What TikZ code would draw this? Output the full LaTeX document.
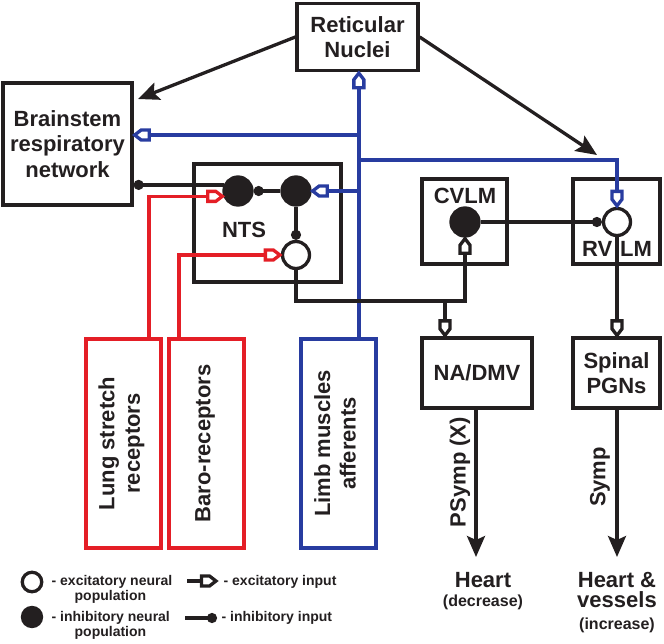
\documentclass[tikz,border=0pt]{standalone}
\usepackage{fontspec}
\setmainfont{Liberation Sans}
\usetikzlibrary{arrows.meta,calc}
\definecolor{ink}{RGB}{35,31,32}
\definecolor{rd}{RGB}{228,30,38}
\definecolor{bl}{RGB}{40,60,160}
\newcommand\lblfont{\bfseries\fontsize{22}{25.5}\selectfont}
\newcommand\parfont{\bfseries\fontsize{16}{18}\selectfont}
\newcommand\legfont{\bfseries\fontsize{14}{16}\selectfont}
\pgfdeclarearrow{
  name = House,
  setup code = {
    \pgfarrowssettipend{0pt}
    \pgfarrowssetbackend{-16pt}
    \pgfarrowssetlineend{-15pt}
    \pgfarrowssetvisualbackend{-16pt}
    \pgfarrowsupperhullpoint{0pt}{0pt}
    \pgfarrowsupperhullpoint{-7pt}{5.5pt}
    \pgfarrowsupperhullpoint{-16pt}{5.5pt}
  },
  drawing code = {
    \pgfsetmiterjoin
    \pgfpathmoveto{\pgfpoint{-1pt}{0pt}}
    \pgfpathlineto{\pgfpoint{-7.5pt}{5pt}}
    \pgfpathlineto{\pgfpoint{-15.5pt}{5pt}}
    \pgfpathlineto{\pgfpoint{-15.5pt}{-5pt}}
    \pgfpathlineto{\pgfpoint{-7.5pt}{-5pt}}
    \pgfpathclose
    \pgfsetfillcolor{white}
    \pgfusepathqfillstroke
  },
}
\begin{document}
\begin{tikzpicture}[x=1pt,y=-1pt, color=ink,
  every path/.style={line width=3.3pt},
  box/.style={draw=ink, rectangle, inner sep=0pt, line width=3.3pt, text=ink, font=\lblfont, align=center},
  txt/.style={text=ink, font=\lblfont, align=center, inner sep=0pt},
  ptxt/.style={text=ink, font=\parfont, inner sep=0pt, anchor=base},
  leg/.style={text=ink, font=\legfont, anchor=base west, inner sep=0pt},
  exc/.style={-House},
  inh/.style={-{Circle[length=10pt,width=10pt]}},
  big/.style={-{Stealth[length=21pt,width=18pt,inset=4pt]}},
  ecell/.style={circle, draw=ink, fill=white, line width=3.3pt, inner sep=0pt, minimum size=#1},
  icell/.style={circle, draw=ink, fill=ink, line width=3.3pt, inner sep=0pt, minimum size=#1},
]
\useasboundingbox (0,0) rectangle (664,643);

% boxes
\node[box, minimum width=121pt, minimum height=67pt] (ret) at (357.5,37) {Reticular\\Nuclei};
\node[box, minimum width=129pt, minimum height=122pt] (brain) at (67.5,144) {Brainstem\\respiratory\\network};
\node[box, minimum width=147pt, minimum height=118pt] (nts) at (267.5,223) {};
\node[box, minimum width=85pt, minimum height=85pt] (cvlm) at (464.5,221.5) {};
\node[box, minimum width=87pt, minimum height=85pt] (rvlm) at (616.5,221.5) {};
\node[box, minimum width=110pt, minimum height=70pt] (nadmv) at (477,373) {NA/DMV};
\node[box, minimum width=87pt, minimum height=70pt] (spinal) at (616.5,373) {Spinal\\PGNs};
\node[box, draw=rd, minimum width=75pt, minimum height=209pt] (lung) at (123.5,443.5) {};
\node[box, draw=rd, minimum width=75pt, minimum height=209pt] (baro) at (206.5,443.5) {};
\node[box, draw=bl, minimum width=75pt, minimum height=209pt] (limb) at (338.5,443.5) {};

\node[txt, rotate=90] at (121.5,443.5) {Lung stretch\\receptors};
\node[txt, rotate=90] at (205,443.5) {Baro-receptors};
\node[txt, rotate=90] at (335,443.5) {Limb muscles\\afferents};

% labels in small boxes
\node[txt] (ntslbl) at (244,230) {NTS};
\node[txt] (cvlmlbl) at (465,195.5) {CVLM};
\node[txt] (rvlmlbl) at (617,249) {RV\hspace{8pt}LM};

% neural populations
\node[icell=28pt] (n1) at (238,191) {};
\node[icell=28pt] (n2) at (296,191) {};
\node[ecell=27pt] (n3) at (296,255) {};
\node[icell=28pt] (cv) at (465,222) {};
\node[ecell=27pt] (rv) at (617,222) {};

% coordinates
\coordinate (limbout) at ($(limb.north west)!0.76!(limb.north east)$);
\coordinate (lungout) at ($(lung.north west)!0.827!(lung.north east)$);
\coordinate (baroout) at ($(baro.north west)!0.147!(baro.north east)$);
\coordinate (b1) at (358,135);
\coordinate (b2) at (358,160);
\coordinate (j) at (445,301);
\coordinate (bt) at (138,99);
\coordinate (rt) at (597,155);
\coordinate (h1) at (476,557);
\coordinate (h2) at (617,557);

% reticular outputs
\draw[big] (ret.west) -- (bt);
\draw[big] (ret.east) -- (rt);

% blue limb afferents
\draw[bl, exc] (limbout) -- (limbout |- ret.south);
\draw[bl, exc] (b1) -- (b1 -| brain.east);
\draw[bl, exc] (b2) -| (rv.north);
\draw[bl, exc] (n2.east -| b1) -- (n2.east);

% red receptor afferents
\draw[rd, exc] (lungout) |- (n1.200);
\draw[rd, exc] (baroout) |- (n3.west);

% NTS internal
\draw[inh] (n2.west) -- (n1.east);
\draw[inh] (n2.south) -- (n3.north);
\draw[inh] (n1.157) -- (n1.157 -| brain.east);

% NTS outputs
\draw (n3.south) |- (j);
\draw[exc] (j) -| (cv.south);
\draw[exc] (j) -- (j |- nadmv.north);
\draw[inh] (cv.east) -- (rv.west);
\draw[exc] (rv.south) -- (rv.south |- spinal.north);

% efferents
\draw[big] (nadmv.south -| h1) -- (h1);
\draw[big] (spinal.south -| h2) -- (h2);
\node[txt, rotate=90] (psymp) at (460,472) {PSymp (X)};
\node[txt, rotate=90] (symp) at (600,477) {Symp};

\node[txt, anchor=base] (heartL) at (483,587) {Heart};
\node[ptxt] (dec) at (483,606) {(decrease)};
\node[txt, anchor=base] (heartR) at (617,587) {Heart \&};
\node[txt, anchor=base] (vess) at (617,607) {vessels};
\node[ptxt] (inc) at (617,629) {(increase)};

% legend
\node[ecell=19.5pt] (le) at (32,582) {};
\node[icell=19pt] (li) at (32,617) {};
\node[leg] (lt1) at (50,585) {- excitatory neural};
\node[leg] (lt2) at (73,600) {population};
\node[leg] (lt3) at (50,621.5) {- inhibitory neural};
\node[leg] (lt4) at (73,636) {population};
\coordinate (ea) at (187,581);
\coordinate (eb) at (217,581);
\coordinate (ia) at (185,618);
\coordinate (ib) at (217,618);
\draw[exc] (ea) -- (eb);
\draw[inh] (ia) -- (ib);
\node[leg] (lt5) at (222,585) {- excitatory input};
\node[leg] (lt6) at (220,621.5) {- inhibitory input};
\end{tikzpicture}
\end{document}
